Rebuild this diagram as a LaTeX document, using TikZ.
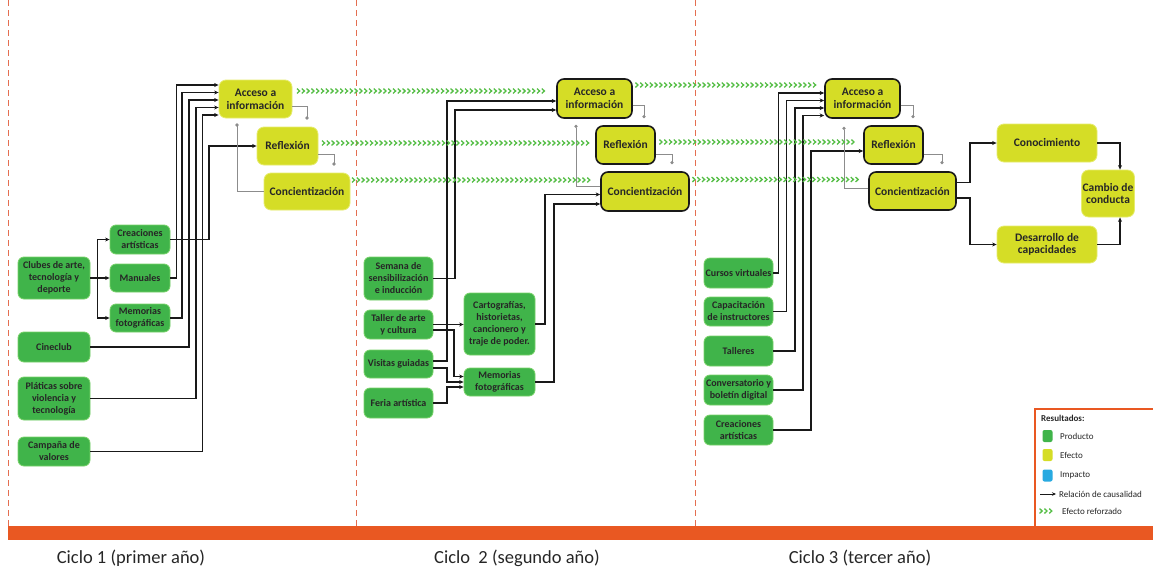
\documentclass[tikz,border=0pt]{standalone}
\usepackage{fontspec}
\setmainfont{Carlito}
\usetikzlibrary{arrows.meta,decorations.markings,calc}
\definecolor{prod}{RGB}{64,180,74}
\definecolor{prodrim}{RGB}{120,210,105}
\definecolor{eff}{RGB}{213,221,38}
\definecolor{effrim}{RGB}{230,236,110}
\definecolor{imp}{RGB}{40,170,225}
\definecolor{chev}{RGB}{85,190,70}
\definecolor{barc}{RGB}{233,88,34}
\definecolor{dashc}{RGB}{228,110,80}
\begin{document}
\begin{tikzpicture}[x=1pt,y=-1pt,
 prodbox/.style={fill=prod,draw=prodrim,line width=0.8pt,rounded corners=6pt,align=center,inner sep=1pt,font=\bfseries\fontsize{10}{12}\selectfont,text=black!85},
 effbox/.style={fill=eff,draw=effrim,line width=0.8pt,rounded corners=7pt,align=center,inner sep=1pt,font=\bfseries\fontsize{11.5}{12.7}\selectfont,text=black!85},
 effbb/.style={effbox,draw=black!90,line width=1.6pt},
 arr/.style={draw=black!90,line width=1.2pt,-{Stealth[length=4.5pt,width=4pt]}},
 garr/.style={draw=black!45,line width=1pt,-{Circle[length=3.2pt]}},
 chevline/.style={decoration={markings,mark=between positions 0 and 1 step 4.8pt with {\draw[chev,line width=1.3pt] (-1.4pt,2.4pt)--(1.2pt,0pt)--(-1.4pt,-2.4pt);}},postaction={decorate}},
 lgtext/.style={anchor=west,inner sep=0pt,font=\fontsize{9}{10}\selectfont,text=black!85},
 lgsq/.style={rounded corners=2pt,minimum width=10pt,minimum height=12pt,inner sep=0pt},
 cyc/.style={font=\fontsize{18.5}{21}\selectfont,text=black!85}
]
\useasboundingbox (0,0) rectangle (1153,573);
\fill[white] (0,0) rectangle (1153,573);

% separators and bar
\foreach \xx in {8,356.5,695.5}
  \draw[dashc,dash pattern=on 6pt off 4pt,line width=0.9pt] (\xx,0) -- (\xx,526);
\fill[barc] (8,526) rectangle (1153,540);
\node[cyc] (c1) at (131,558) {Ciclo 1 (primer año)};
\node[cyc] (c2) at (517,558) {Ciclo\ \ 2 (segundo año)};
\node[cyc] (c3) at (860,558) {Ciclo 3 (tercer año)};

% ---------- cycle 1 ----------
\node[effbox,minimum width=73pt,minimum height=38pt] (acc1) at (255.5,99) {Acceso a\\información};
\node[effbox,minimum width=61pt,minimum height=38pt] (ref1) at (287.5,146) {Reflexión};
\node[effbox,minimum width=86pt,minimum height=37pt] (con1) at (307,191.5) {Concientización};
\node[prodbox,minimum width=60pt,minimum height=29pt] (crea1) at (140,239.5) {Creaciones\\artísticas};
\node[prodbox,minimum width=60pt,minimum height=28pt] (man1) at (140,278) {Manuales};
\node[prodbox,minimum width=60pt,minimum height=28pt] (mem1) at (140,318) {Memorias\\fotográficas};
\node[prodbox,minimum width=72pt,minimum height=42pt] (clubs) at (54,278) {Clubes de arte,\\tecnología y\\deporte};
\node[prodbox,minimum width=72pt,minimum height=30pt] (cine) at (54,347) {Cineclub};
\node[prodbox,minimum width=72pt,minimum height=43pt] (plat) at (54,398.5) {Pláticas sobre\\violencia y\\tecnología};
\node[prodbox,minimum width=72pt,minimum height=29pt] (camp) at (54,451.5) {Campaña de\\valores};

\draw[arr] (clubs.east) -- ++(7,0) |- (crea1.west);
\draw[arr] (clubs.east) -- ++(7,0) |- (mem1.west);
\draw[arr] (clubs.east) -- (man1.west);
\draw[arr] (man1.east) -| (176.5,85) -- ([yshift=14pt]acc1.west);
\draw[arr] (mem1.east) -| (182,92.5) -- ([yshift=6.5pt]acc1.west);
\draw[arr] (cine.east) -| (189,100) -- ([yshift=-1pt]acc1.west);
\draw[arr] (plat.east) -| (196,107.5) -- ([yshift=-8.5pt]acc1.west);
\draw[arr] (camp.east) -| (202.5,115) -- ([yshift=-16pt]acc1.west);
\draw[arr] (crea1.east) -| (209,146) -- (ref1.west);
\draw[garr] ([yshift=-7pt]acc1.east) -| ([xshift=19.5pt,yshift=7pt]ref1.north);
\draw[garr] ([yshift=-8pt]ref1.east) -| ([xshift=27pt,yshift=7pt]con1.north);
\draw[garr] (con1.west) -| ([xshift=-18.5pt,yshift=-5pt]acc1.south);

% ---------- cycle 2 ----------
\node[effbb,minimum width=75pt,minimum height=39pt] (acc2) at (594.5,98.5) {Acceso a\\información};
\node[effbb,minimum width=59pt,minimum height=38pt] (ref2) at (625.5,145) {Reflexión};
\node[effbb,minimum width=88pt,minimum height=39pt] (con2) at (645,191.5) {Concientización};
\node[prodbox,minimum width=69pt,minimum height=43pt] (sem) at (398.5,278.5) {Semana de\\sensibilización\\e inducción};
\node[prodbox,minimum width=69pt,minimum height=29pt] (tal) at (398.5,324.5) {Taller de arte\\y cultura};
\node[prodbox,minimum width=69pt,minimum height=28pt] (vis) at (398.5,364) {Visitas guiadas};
\node[prodbox,minimum width=69pt,minimum height=30pt] (fer) at (398.5,403) {Feria artística};
\node[prodbox,minimum width=71pt,minimum height=62pt] (carto) at (499.5,324) {Cartografías,\\historietas,\\cancionero y\\traje de poder.};
\node[prodbox,minimum width=71pt,minimum height=28pt] (mem2) at (499.5,382) {Memorias\\fotográficas};

\draw[arr] ([yshift=3pt]vis.east) -| (447,101) -- ([yshift=-2.5pt]acc2.west);
\draw[arr] (sem.east) -| (455,110) -- ([yshift=-11.5pt]acc2.west);
\draw[arr] (tal.east) -- (carto.west |- tal.east);
\draw[arr] ([yshift=-5.5pt]tal.east) -| (454,376.5) -- ([yshift=5.5pt]mem2.west);
\draw[arr] ([yshift=-4pt]vis.east) -| (447,382) -- (mem2.west);
\draw[arr] (fer.east) -| (447,387) -- ([yshift=-5pt]mem2.west);
\draw[arr] (carto.east) -| (545,194.5) -- ([yshift=-3pt]con2.west);
\draw[arr] (mem2.east) -| (554,204) -- ([yshift=-12.5pt]con2.west);
\draw[garr] ([yshift=-7pt]acc2.east) -| ([xshift=18.5pt,yshift=7pt]ref2.north);
\draw[garr] ([yshift=-9pt]ref2.east) -| ([xshift=27pt,yshift=7pt]con2.north);
\draw[garr] ([yshift=5.5pt]con2.west) -| ([xshift=-18.5pt,yshift=-6pt]acc2.south);

% ---------- cycle 3 ----------
\node[effbb,minimum width=75pt,minimum height=39pt] (acc3) at (862.5,98.5) {Acceso a\\información};
\node[effbb,minimum width=59pt,minimum height=38pt] (ref3) at (893.5,145) {Reflexión};
\node[effbb,minimum width=87pt,minimum height=38pt] (con3) at (912.5,191) {Concientización};
\node[prodbox,minimum width=69pt,minimum height=30pt] (cur) at (738.5,273) {Cursos virtuales};
\node[prodbox,minimum width=69pt,minimum height=29pt] (cap) at (738.5,311.5) {Capacitación\\de instructores};
\node[prodbox,minimum width=69pt,minimum height=30pt] (tall) at (738.5,351) {Talleres};
\node[prodbox,minimum width=69pt,minimum height=30pt] (conv) at (738.5,390) {Conversatorio y\\boletín digital};
\node[prodbox,minimum width=69pt,minimum height=30pt] (crea3) at (738.5,430) {Creaciones\\artísticas};

\draw[arr] (cur.east) -| (778.5,93) -- ([yshift=5.5pt]acc3.west);
\draw[arr] (cap.east) -| (786.5,100.5) -- ([yshift=-2pt]acc3.west);
\draw[arr] (tall.east) -| (795,108) -- ([yshift=-9.5pt]acc3.west);
\draw[arr] (conv.east) -| (803,115.5) -- ([yshift=-17pt]acc3.west);
\draw[arr] (crea3.east) -| (811,151) -- ([yshift=-6pt]ref3.west);
\draw[garr] ([yshift=-7pt]acc3.east) -| ([xshift=19.5pt,yshift=7pt]ref3.north);
\draw[garr] ([yshift=-9pt]ref3.east) -| ([xshift=29.5pt,yshift=7pt]con3.north);
\draw[garr] ([yshift=3pt]con3.west) -| ([xshift=-18.5pt,yshift=-8pt]acc3.south);

% ---------- outcomes ----------
\node[effbox,minimum width=100pt,minimum height=38pt] (cono) at (1047,143) {Conocimiento};
\node[effbox,minimum width=100pt,minimum height=37pt] (des) at (1047,244.5) {Desarrollo de\\capacidades};
\node[effbox,minimum width=48pt,minimum height=47pt] (camb) at (1108,193.5) {Cambio de\\conducta};
\draw[arr] ([yshift=8.5pt]con3.east) -| (970,143) -- (cono.west);
\draw[arr] ([yshift=-7pt]con3.east) -| (970,244.5) -- (des.west);
\draw[arr] (cono.east) -| ([xshift=12pt]camb.north);
\draw[arr] (des.east) -| ([xshift=12pt]camb.south);

% ---------- reinforcement rows ----------
\path[chevline] ([xshift=6pt,yshift=8pt]acc1.east) -- ([xshift=-10pt,yshift=7.5pt]acc2.west);
\path[chevline] ([xshift=5pt,yshift=3pt]ref1.east) -- ([xshift=-7pt,yshift=2pt]ref2.west);
\path[chevline] ([xshift=3pt,yshift=11.5pt]con1.east) -- ([xshift=-7pt,yshift=11.5pt]con2.west);
\path[chevline] ([xshift=4pt,yshift=13.5pt]acc2.east) -- ([xshift=-7pt,yshift=13.5pt]acc3.west);
\path[chevline] ([xshift=5pt,yshift=3pt]ref2.east) -- ([xshift=-9pt,yshift=3pt]ref3.west);
\path[chevline] ([xshift=4pt,yshift=12pt]con2.east) -- ([xshift=-7pt,yshift=11.5pt]con3.west);

% ---------- legend ----------
\draw[barc,line width=2pt] (1035,409) rectangle (1170,527);
\node[lgtext,font=\bfseries\fontsize{9}{10}\selectfont] (lgT) at (1041,418) {Resultados:};
\node[lgsq,fill=prod] (lgP) at (1047.5,436) {};
\node[lgtext] (lgPt) at (1060,436) {Producto};
\node[lgsq,fill=eff] (lgE) at (1047.5,455) {};
\node[lgtext] (lgEt) at (1060,455) {Efecto};
\node[lgsq,fill=imp] (lgI) at (1047.5,475.5) {};
\node[lgtext] (lgIt) at (1060,475.5) {Impacto};
\coordinate (lgA1) at (1040,494);
\coordinate (lgA2) at (1056,494);
\draw[draw=black!90,line width=1pt,-{Stealth[length=4pt,width=3.5pt]}] (lgA1) -- (lgA2);
\node[lgtext] (lgAt) at (1059,494) {Relación de causalidad};
\coordinate (lgC1) at (1041,511);
\coordinate (lgC2) at (1053,511);
\path[chevline] (lgC1) -- (lgC2);
\node[lgtext] (lgCt) at (1062,511) {Efecto reforzado};
\end{tikzpicture}
\end{document}
